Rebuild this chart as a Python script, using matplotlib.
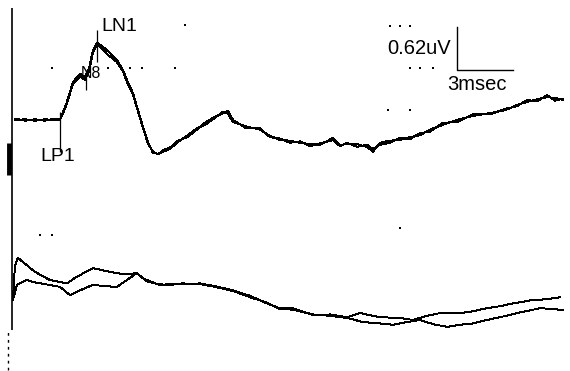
import matplotlib
matplotlib.use("Agg")
import matplotlib.pyplot as plt

# upper channel: two superimposed sweeps (time in ms, amplitude in uV)
t_top = [0.16, 0.70, 1.23, 1.76, 2.30, 2.57, 2.89, 3.26, 3.64, 3.90, 4.12, 4.33,
         4.55, 4.87, 5.24, 5.61, 5.94, 6.20, 6.47, 6.74, 7.01, 7.27, 7.54, 7.81,
         8.07, 8.45, 8.82, 9.36, 9.89, 10.32, 10.75, 11.28, 11.55, 11.82, 12.46,
         13.26, 13.80, 14.33, 14.87, 15.40, 15.94, 16.47, 17.17, 17.54, 17.91,
         18.45, 18.98, 19.30, 19.68, 20.21, 20.75, 21.28, 21.82, 22.35, 23.05,
         23.80, 24.65, 25.56, 26.36, 27.01, 27.54, 28.07, 28.61, 29.04, 29.47]
top_a = [0.00, 0.01, -0.01, 0.01, 0.00, 0.01, 0.22, 0.55, 0.67, 0.62, 0.75, 1.01,
         1.12, 1.06, 0.97, 0.87, 0.72, 0.55, 0.39, 0.14, -0.10, -0.32, -0.48, -0.49,
         -0.46, -0.42, -0.33, -0.23, -0.12, -0.07, 0.01, 0.12, 0.09, -0.03, -0.09,
         -0.14, -0.23, -0.29, -0.30, -0.33, -0.35, -0.36, -0.26, -0.36, -0.35,
         -0.35, -0.39, -0.46, -0.33, -0.30, -0.29, -0.25, -0.22, -0.14, -0.07,
         0.00, 0.06, 0.10, 0.14, 0.22, 0.26, 0.30, 0.33, 0.32, 0.29]
top_b = [0.02, -0.01, 0.01, -0.01, 0.02, 0.00, 0.20, 0.52, 0.63, 0.58, 0.70, 0.98,
         1.10, 1.01, 0.92, 0.84, 0.70, 0.52, 0.37, 0.12, -0.12, -0.34, -0.46, -0.50,
         -0.44, -0.40, -0.31, -0.25, -0.14, -0.04, 0.03, 0.10, 0.13, 0.00, -0.11,
         -0.12, -0.25, -0.27, -0.33, -0.31, -0.38, -0.34, -0.29, -0.38, -0.33,
         -0.39, -0.36, -0.42, -0.36, -0.33, -0.26, -0.28, -0.19, -0.17, -0.04,
         -0.03, 0.08, 0.08, 0.16, 0.20, 0.29, 0.27, 0.36, 0.28, 0.31]

# lower channel: two sweeps, plotted below the upper one
t_low_a = [0.05, 0.16, 0.32, 0.59, 0.86, 1.12, 1.60, 2.03, 2.57, 2.94, 3.37, 3.90,
           4.33, 4.87, 5.40, 6.04, 6.68, 6.95, 7.22, 7.75, 8.29, 9.14, 10.05, 10.86,
           11.82, 12.73, 13.64, 14.33, 15.03, 16.10, 17.01, 17.91, 18.61, 19.68,
           20.75, 21.44, 22.19, 22.89, 23.58, 24.33, 25.40, 26.10, 26.79, 27.86,
           28.61, 29.30]
low_a = [-0.36, 0.14, 0.25, 0.19, 0.13, 0.07, -0.01, -0.07, -0.10, -0.12, -0.04, 0.04,
         0.10, 0.07, 0.04, 0.01, 0.03, -0.04, -0.07, -0.13, -0.14, -0.13, -0.12, -0.16,
         -0.22, -0.30, -0.41, -0.48, -0.48, -0.58, -0.57, -0.61, -0.55, -0.61,
         -0.62, -0.65, -0.59, -0.55, -0.55, -0.54, -0.48, -0.45, -0.41, -0.36,
         -0.35, -0.32]
t_low_b = [0.05, 0.27, 0.43, 0.80, 1.12, 1.76, 2.57, 3.10, 3.64, 4.33, 4.97, 5.61,
           6.15, 6.68, 7.22, 7.91, 9.14, 10.05, 10.86, 11.82, 12.73, 13.64, 14.33,
           15.03, 16.10, 17.01, 17.91, 18.77, 19.68, 20.37, 21.12, 21.82, 22.51,
           23.26, 23.96, 24.65, 25.40, 26.10, 27.17, 28.24, 28.93, 29.47]
low_b = [-0.36, -0.14, -0.12, -0.07, -0.10, -0.13, -0.17, -0.29, -0.22, -0.14, -0.16,
         -0.17, -0.07, 0.03, -0.09, -0.14, -0.12, -0.13, -0.17, -0.23, -0.32, -0.40,
         -0.49, -0.50, -0.57, -0.59, -0.62, -0.68, -0.70, -0.72, -0.68, -0.65, -0.71,
         -0.75, -0.72, -0.70, -0.65, -0.61, -0.54, -0.48, -0.49, -0.51]
low_offset = -2.25

# peak markers on the upper channel: (label, time, tick top, tick bottom)
peak_names = ["LP1", "N8", "LN1"]
peak_times = [2.57, 3.96, 4.55]
peak_tick_hi = [0.12, 0.72, 1.30]
peak_tick_lo = [-0.46, 0.43, 0.84]

# calibration bar
cal_uv = 0.62
cal_ms = 3.0

# leftover grid points on the display
grid_t = [2.14, 5.13, 6.31, 6.95, 8.72, 9.25, 20.21, 20.75, 21.28, 21.28, 21.82,
          22.51, 20.11, 21.28, 1.50, 2.14, 20.75]
grid_v = [0.75, 0.75, 0.75, 0.75, 0.75, 1.38, 1.36, 1.36, 1.36, 0.75, 0.75,
          0.75, 0.14, 0.14, -1.67, -1.67, -1.57]

fig = plt.figure(figsize=(5.70, 3.71), dpi=100)
ax = fig.add_axes([0, 0, 1, 1])
ax.set_xlim(-0.64, 29.84)
ax.set_ylim(-3.64, 1.74)
ax.axis("off")

font = ["Liberation Sans", "DejaVu Sans"]
lw = 0.7
ax.plot(t_top, top_a, color="black", lw=lw, antialiased=False)
ax.plot(t_top, top_b, color="black", lw=lw, antialiased=False)
ax.plot(t_low_a, [v + low_offset for v in low_a], color="black", lw=lw, antialiased=False)
ax.plot(t_low_b, [v + low_offset for v in low_b], color="black", lw=lw, antialiased=False)

# stimulus artifact at the start of the sweep
ax.vlines(0.0, -3.05, 1.63, color="black", lw=1.2)
ax.vlines(-0.16, -0.80, -0.33, color="black", lw=3.5)
ax.vlines(-0.21, -3.62, -3.05, color="black", lw=1.0, linestyles=(0, (2, 3)))

ax.scatter(grid_t, grid_v, s=1.5, color="black", marker="s", linewidths=0)

for name, t, hi, lo in zip(peak_names, peak_times, peak_tick_hi, peak_tick_lo):
    ax.vlines(t, lo, hi, color="black", lw=0.9)
ax.text(peak_times[0] - 1.05, peak_tick_lo[0] + 0.06, peak_names[0], fontsize=14,
        family=font, ha="left", va="top")
ax.text(peak_times[1] - 0.3, 0.67, peak_names[1], fontsize=11.5, family=font,
        ha="left", va="center")
ax.text(peak_times[2] + 0.25, 1.36, peak_names[2], fontsize=14, family=font,
        ha="left", va="center")

# calibration: vertical 0.62 uV, horizontal 3 ms
cal_t, cal_v = 23.80, 0.725
ax.plot([cal_t, cal_t, cal_t + cal_ms], [cal_v + cal_uv, cal_v, cal_v],
        color="black", lw=1.0)
ax.text(cal_t - 0.35, cal_v + cal_uv / 2, f"{cal_uv}uV", fontsize=14.5, family=font,
        ha="right", va="center")
ax.text(cal_t + cal_ms / 2 - 0.45, cal_v - 0.07, f"{cal_ms:g}msec", fontsize=14.5,
        family=font, ha="center", va="top")

fig.savefig("out.png", dpi=100)
